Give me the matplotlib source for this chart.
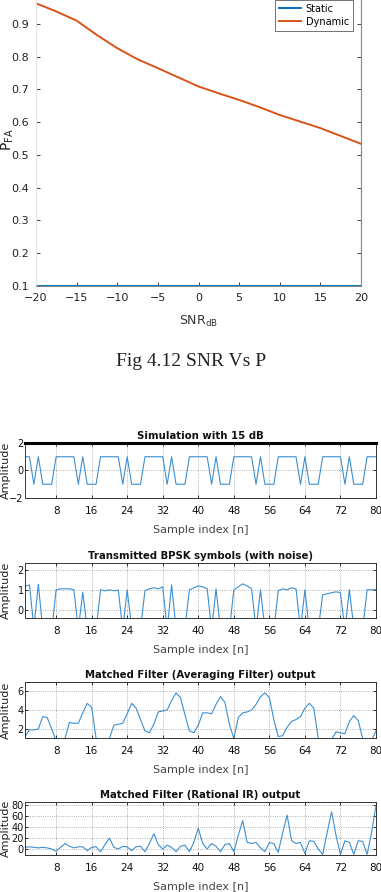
import numpy as np
import matplotlib.pyplot as plt

# ---- data: P_FA vs SNR ----
snr_db = [-20, -17.5, -15, -12.5, -10, -7.5, -5, -2.5, 0, 2.5, 5, 7.5, 10, 12.5, 15, 17.5, 20]
pfa_dynamic = [0.963, 0.938, 0.910, 0.866, 0.826, 0.792, 0.765, 0.737, 0.709,
               0.688, 0.668, 0.646, 0.622, 0.602, 0.582, 0.558, 0.534]
pfa_static = [0.1] * len(snr_db)

# ---- data: matched filter simulation (n = 1..80) ----
n_idx = list(range(1, 81))
sig_clean = [1, 1, -1, 1, -1, -1, -1, 1, 1, 1,
             1, 1, -1, 1, -1, -1, -1, 1, 1, 1,
             1, 1, -1, 1, -1, -1, -1, 1, 1, 1,
             1, 1, -1, 1, -1, -1, -1, 1, 1, 1,
             1, 1, -1, 1, -1, -1, -1, 1, 1, 1,
             1, 1, -1, 1, -1, -1, -1, 1, 1, 1,
             1, 1, -1, 1, -1, -1, -1, 1, 1, 1,
             1, 1, -1, 1, -1, -1, -1, 1, 1, 1]
sig_noisy = [1.17, 1.25, -0.9, 1.28, -1.0, -0.9, -1.1, 1.0, 1.05, 1.05,
             1.05, 1.0, -1.0, 0.88, -0.95, -1.1, -1.0, 1.0, 0.95, 1.0,
             0.95, 0.98, -1.0, 1.0, -0.9, -1.05, -0.95, 0.95, 1.05, 1.1,
             1.05, 1.15, -1.0, 1.25, -0.95, -1.1, -0.9, 1.0, 1.1, 1.2,
             1.15, 1.05, -1.0, 1.05, -1.0, -0.95, -1.05, 1.0, 1.15, 1.3,
             1.2, 1.05, -1.0, 1.0, -1.0, -0.9, -1.0, 0.95, 1.05, 1.0,
             1.1, 1.05, -1.0, 1.0, -1.05, -0.95, -1.0, 0.75, 0.8, 0.85,
             0.9, 0.85, -1.0, 1.0, -0.9, -1.05, -1.0, 1.0, 1.0, 1.0]
avg_out = [1.2, 1.9, 1.9, 2.0, 3.3, 3.2, 2.0, 0.8, 0.5, 1.0,
           2.7, 2.6, 2.6, 3.7, 4.7, 4.3, 1.0, 0.6, 0.5, 1.0,
           2.4, 2.5, 2.6, 3.6, 4.7, 4.2, 3.0, 1.8, 1.6, 2.5,
           3.8, 3.9, 4.0, 5.0, 5.8, 5.3, 3.5, 1.8, 1.6, 2.4,
           3.7, 3.7, 3.6, 4.6, 5.4, 4.8, 2.5, 1.0, 3.2, 3.7,
           3.8, 4.0, 4.6, 5.4, 5.8, 5.3, 3.0, 1.2, 1.3, 2.2,
           2.8, 3.0, 3.3, 4.2, 4.7, 4.2, 1.0, 0.6, 0.5, 0.9,
           1.7, 1.6, 1.5, 2.8, 3.4, 2.9, 1.0, 0.6, 0.8, 1.8]
iir_out = [3, 4, 3, 2, 3, 2, 0, -4, 3, 10,
           5, 2, 4, 4, -3, 3, 4, -5, 8, 20,
           3, 0, 5, 4, -3, 4, 5, -5, 10, 28,
           8, 0, 7, 3, -5, 5, 7, -5, 12, 38,
           10, 0, 10, 5, -5, 8, 10, -5, 25, 52,
           12, 10, 12, 2, -5, 12, 10, -6, 30, 62,
           15, 10, 12, -8, 15, 14, 0, -10, 30, 68,
           25, -10, 15, 12, -10, 15, 14, -10, 30, 80]
n_ticks = [8, 16, 24, 32, 40, 48, 56, 64, 72, 80]
n_tick_labels = ['8', '16', '24', '32', '40', '48', '56', '64', '72', '80']

W, H = 381, 892
fig = plt.figure(figsize=(W / 100, H / 100), dpi=100)


def px_axes(l, t, r, b):
    return fig.add_axes([l / W, 1 - b / H, (r - l) / W, (b - t) / H])


# ---------------- top chart ----------------
ax = px_axes(36, 0, 361, 286)
ax.plot(snr_db, pfa_static, color='#0072BD', lw=1.4, label='Static')
ax.plot(snr_db, pfa_dynamic, color='#D95319', lw=1.4, label='Dynamic')
ax.set_xlim(-20, 20)
ax.set_ylim(0.1, 0.973)
ax.set_xticks([-20, -15, -10, -5, 0, 5, 10, 15, 20])
ax.set_yticks([0.1, 0.2, 0.3, 0.4, 0.5, 0.6, 0.7, 0.8, 0.9])
ax.tick_params(direction='in', length=3, width=0.6, top=False, right=True,
               labelsize=8, colors='#222222', pad=5)
ax.spines['top'].set_visible(False)
ax.spines['left'].set_color('#e4e4e4')
ax.spines['right'].set_color('#888888')
ax.spines['bottom'].set_color('#888888')
ax.set_xlabel(r'$\mathregular{SNR_{dB}}$', fontsize=9, color='#333333', labelpad=8)
ax.set_ylabel(r'$\mathregular{P_{FA}}$', fontsize=10, color='#222222')
ax.yaxis.set_label_coords((16 - 36) / 325, 0.51)
leg = ax.legend(loc='upper right', bbox_to_anchor=((353 - 36) / 325, 1.0),
                fontsize=7, frameon=True, fancybox=False, borderpad=0.4,
                handlelength=2.3, handletextpad=0.5, labelspacing=0.3, borderaxespad=0)
leg.get_frame().set_edgecolor('#333333')
leg.get_frame().set_linewidth(0.6)

fig.text(191 / W, 1 - 362 / H, 'Fig 4.12 SNR Vs P', family='Liberation Serif',
         fontsize=14, ha='center', va='center', color='#222222')

# ---------------- lower panels ----------------
line_col = '#3d8fd1'

panels = [
    (443, 498, sig_clean, 'Simulation with 15 dB', (-2, 2), [-2, 0, 2]),
    (563, 618, sig_noisy, 'Transmitted BPSK symbols (with noise)', (-0.42, 2.35), [0, 1, 2]),
    (682, 738, avg_out, 'Matched Filter (Averaging Filter) output', (1.05, 6.95), [2, 4, 6]),
    (802, 855, iir_out, 'Matched Filter (Rational IR) output', (-11, 86), [0, 20, 40, 60, 80]),
]

for i, (top, bot, vals, title, ylim, yt) in enumerate(panels):
    a = px_axes(25, top, 376, bot)
    a.plot(n_idx, vals, color=line_col, lw=0.8)
    a.set_xlim(1, 80)
    a.set_ylim(*ylim)
    a.set_xticks(n_ticks)
    a.set_xticklabels(n_tick_labels)
    a.set_yticks(yt)
    a.tick_params(direction='in', length=2.5, width=0.6, top=True, right=True,
                  labelsize=7.5, colors='#111111', pad=6)
    a.tick_params(axis='y', pad=1.0, labelsize=7)
    a.grid(True, linestyle=':', color='#9a9a9a', lw=0.6)
    for s in a.spines.values():
        s.set_color('#333333')
        s.set_linewidth(0.7)
    if i == 0:
        a.spines['top'].set_linewidth(2.2)
        a.spines['top'].set_color('black')
    a.set_title(title, fontsize=7.3, fontweight='bold', pad=3, color='#111111')
    a.set_xlabel('Sample index [n]', fontsize=8, color='#444444', labelpad=6)
    a.set_ylabel('Amplitude', fontsize=8, color='#222222')
    a.yaxis.set_label_coords((11 - 25) / 351, 0.5)

fig.savefig('out.png', dpi=100)
